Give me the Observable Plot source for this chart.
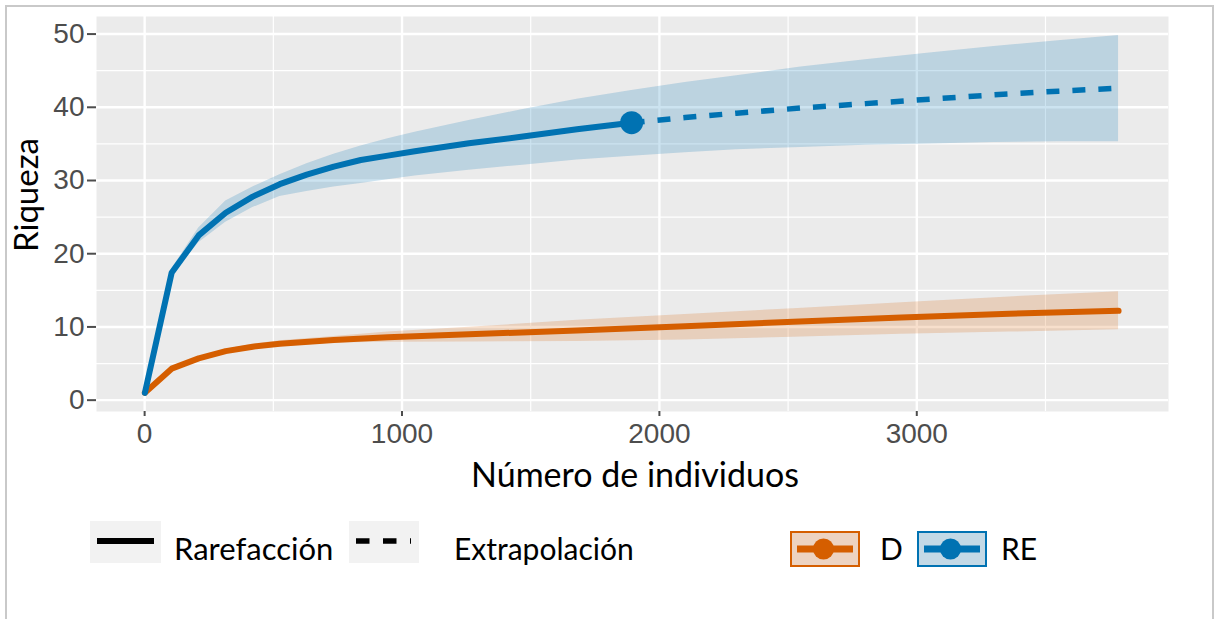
<!DOCTYPE html>
<html><head><meta charset="utf-8">
<script src="https://cdn.jsdelivr.net/npm/d3@7"></script>
<script src="https://cdn.jsdelivr.net/npm/@observablehq/plot@0.6"></script>
<style>
html,body{margin:0;padding:0;background:#fff;overflow:hidden}
#wrap{position:relative;width:1214px;height:619px;overflow:hidden}
#border{position:absolute;left:5px;top:5px;width:1209px;height:660px;border:2px solid #C9C9C9;box-sizing:border-box}
#chart{position:absolute;left:0;top:0}
#legend{position:absolute;left:0;top:500px}
</style></head><body>
<div id="wrap"><div id="border"></div><div id="chart"></div><svg id="legend" width="1214" height="119"></svg></div>
<script>
// ---------- data ----------
const groups = ["D", "RE"];
const groupColors = ["#D55E00", "#0072B2"];
const typeLabels = ["Rarefacción", "Extrapolación"];

// RE rarefaction
const reRareX  = [1, 105, 210, 315, 420, 525, 630, 735, 840, 945, 1050, 1260, 1470, 1680, 1892];
const reRareY  = [1.0, 17.4, 22.5, 25.6, 27.8, 29.5, 30.8, 31.9, 32.8, 33.4, 34.0, 35.1, 36.0, 37.0, 37.9];
const reRareLo = [1.0, 16.9, 21.5, 24.3, 26.3, 27.8, 28.5, 29.1, 29.6, 30.1, 30.6, 31.4, 32.1, 32.8, 33.3];
const reRareHi = [1.0, 17.9, 23.5, 27.2, 29.1, 30.8, 32.3, 33.6, 34.7, 35.7, 36.6, 38.2, 39.7, 41.1, 42.3];
// RE extrapolation
const reExtX  = [1892, 2100, 2300, 2550, 2800, 3050, 3300, 3550, 3784];
const reExtY  = [37.9, 38.6, 39.2, 39.9, 40.5, 41.1, 41.7, 42.2, 42.6];
const reExtLo = [33.3, 33.8, 34.2, 34.5, 34.8, 35.0, 35.2, 35.3, 35.3];
const reExtHi = [42.3, 43.4, 44.3, 45.5, 46.5, 47.4, 48.3, 49.1, 49.8];
// RE observed point
const reObsX = 1892, reObsY = 37.9;
// D rarefaction
const dX  = [1, 105, 210, 315, 420, 525, 735, 945, 1260, 1680, 2100, 2520, 2940, 3360, 3784];
const dY  = [1.0, 4.3, 5.7, 6.7, 7.3, 7.7, 8.2, 8.6, 9.0, 9.5, 10.1, 10.7, 11.3, 11.8, 12.2];
const dLo = [1.0, 4.2, 5.5, 6.45, 6.95, 7.3, 7.8, 7.9, 7.95, 8.0, 8.2, 8.6, 9.0, 9.3, 9.6];
const dHi = [1.0, 4.4, 5.9, 6.95, 7.65, 8.1, 8.7, 9.3, 9.95, 10.9, 11.7, 12.5, 13.3, 14.1, 14.8];

// ticks
const xTicks = [0, 1000, 2000, 3000];
const xMinor = [500, 1500, 2500, 3500];
const yTicks = [0, 10, 20, 30, 40, 50];
const yMinor = [5, 15, 25, 35, 45];
const xTitle = "Número de individuos";
const yTitle = "Riqueza";

// ---------- tables ----------
const mk = (xs, ys, lo, hi, g) => xs.map((x, i) => ({x, y: ys[i], lo: lo[i], hi: hi[i], g}));
const dRows = mk(dX, dY, dLo, dHi, "D");
const reRare = mk(reRareX, reRareY, reRareLo, reRareHi, "RE");
const reExt = mk(reExtX, reExtY, reExtLo, reExtHi, "RE");
const reAll = reRare.concat(reExt.slice(1));

const col = {D: groupColors[0], RE: groupColors[1]};
const titleFont = "Lato, 'Open Sans', sans-serif";

const plot = Plot.plot({
  width: 1214, height: 500,
  marginLeft: 96, marginRight: 46, marginTop: 16, marginBottom: 89,
  x: {domain: [-187, 3978]},
  y: {domain: [-1.55, 52.4]},
  style: {fontFamily: "'Liberation Sans', Arial, sans-serif", fontSize: "28px", background: "transparent", overflow: "visible"},
  marks: [
    Plot.frame({fill: "#EBEBEB", stroke: null}),
    Plot.gridX(xMinor, {stroke: "white", strokeOpacity: 1, strokeWidth: 1.2}),
    Plot.gridY(yMinor, {stroke: "white", strokeOpacity: 1, strokeWidth: 1.2}),
    Plot.gridX(xTicks, {stroke: "white", strokeOpacity: 1, strokeWidth: 2.4}),
    Plot.gridY(yTicks, {stroke: "white", strokeOpacity: 1, strokeWidth: 2.4}),
    Plot.areaY(dRows, {x: "x", y1: "lo", y2: "hi", fill: col.D, fillOpacity: 0.2}),
    Plot.areaY(reAll, {x: "x", y1: "lo", y2: "hi", fill: col.RE, fillOpacity: 0.2}),
    Plot.line(dRows, {x: "x", y: "y", stroke: col.D, strokeWidth: 6}),
    Plot.line(reRare, {x: "x", y: "y", stroke: col.RE, strokeWidth: 6}),
    Plot.line(reExt, {x: "x", y: "y", stroke: col.RE, strokeWidth: 5.5, strokeDasharray: "13,13", strokeLinecap: "butt"}),
    Plot.dot([{x: reObsX, y: reObsY}], {x: "x", y: "y", r: 11.5, fill: col.RE, stroke: null}),
    Plot.axisX(xTicks, {tickSize: 5, tickPadding: 7, color: "#4D4D4D", strokeWidth: 2, label: null, fontSize: 28, tickFormat: d => String(d)}),
    Plot.axisY(yTicks, {tickSize: 9, tickPadding: 3, color: "#4D4D4D", strokeWidth: 2, label: null, fontSize: 28, tickFormat: d => String(d)})
  ]
});
document.getElementById("chart").appendChild(plot);

const svg = d3.select(plot);
svg.append("text").attr("x", 635).attr("y", 487).attr("text-anchor", "middle")
  .style("font-family", titleFont).style("font-size", "34px").attr("fill", "#000").text(xTitle);
svg.append("text").attr("transform", "translate(38,195) rotate(-90)").attr("text-anchor", "middle")
  .style("font-family", titleFont).style("font-size", "33px").attr("fill", "#000").text(yTitle);

// ---------- legend ----------
const lg = d3.select("#legend");
const lf = (sel, size) => sel.style("font-family", titleFont).style("font-size", size + "px").attr("fill", "#000");
// linetype keys
lg.append("rect").attr("x", 90).attr("y", 21).attr("width", 71).attr("height", 42).attr("fill", "#F2F2F2");
lg.append("line").attr("x1", 97).attr("x2", 154).attr("y1", 41).attr("y2", 41).attr("stroke", "#000").attr("stroke-width", 6);
lf(lg.append("text").attr("x", 174).attr("y", 60).text(typeLabels[0]), 31);
lg.append("rect").attr("x", 349).attr("y", 21).attr("width", 70).attr("height", 42).attr("fill", "#F2F2F2");
lg.append("line").attr("x1", 356).attr("x2", 411).attr("y1", 41).attr("y2", 41).attr("stroke", "#000").attr("stroke-width", 5.5).attr("stroke-dasharray", "13.5,13.5");
lf(lg.append("text").attr("x", 454).attr("y", 60).text(typeLabels[1]), 30);
// colour keys
const keyX = [791, 918], textX = [880, 1001], keyFill = ["#EDD3C1", "#C3D9E6"];
groups.forEach((g, i) => {
  lg.append("rect").attr("x", keyX[i]).attr("y", 32).attr("width", 68).attr("height", 34)
    .attr("fill", keyFill[i]).attr("stroke", groupColors[i]).attr("stroke-width", 2);
  lg.append("line").attr("x1", keyX[i] + 6).attr("x2", keyX[i] + 62).attr("y1", 49).attr("y2", 49)
    .attr("stroke", groupColors[i]).attr("stroke-width", 7);
  lg.append("circle").attr("cx", keyX[i] + 32.5).attr("cy", 49).attr("r", 10.5).attr("fill", groupColors[i]);
  lf(lg.append("text").attr("x", textX[i]).attr("y", 60).text(g), 30);
});
</script>
</body></html>
